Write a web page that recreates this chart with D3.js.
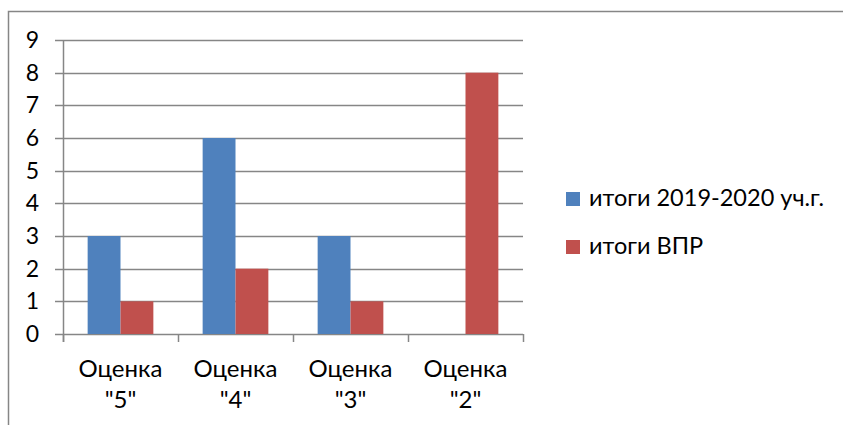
<!DOCTYPE html>
<html><head><meta charset="utf-8">
<script src="https://cdn.jsdelivr.net/npm/d3@7"></script>
<style>html,body{margin:0;background:#fff;overflow:hidden}svg{display:block}text{font-family:Lato,"Open Sans",sans-serif;fill:#000}</style>
</head><body>
<script>
const categories = [['Оценка','"5"'],['Оценка','"4"'],['Оценка','"3"'],['Оценка','"2"']];
const seriesNames = ['итоги 2019-2020 уч.г.','итоги ВПР'];
const series1 = [3, 6, 3, 0];
const series2 = [1, 2, 1, 8];
const yTicks = [0,1,2,3,4,5,6,7,8,9];
const colors = ['#4F81BD','#C0504D'];

(function(){
const W = 843, H = 425;
const svg = d3.select('body').append('svg').attr('width', W).attr('height', H);
svg.append('rect').attr('x',8.5).attr('y',11.5).attr('width',W).attr('height',H)
  .attr('fill','none').attr('stroke','#868686').attr('stroke-width',1.5);

const pl = 63, pr = 523, pt = 40, pb = 334;
const y = d3.scaleLinear().domain([0,9]).range([pb, pt]);
const x = d3.scaleBand().domain(d3.range(categories.length)).range([pl, pr]);
const gap = 1.5;
const bw = x.bandwidth() / (2 + gap);

svg.append('g').selectAll('line').data(yTicks).join('line')
  .attr('x1', pl - 8).attr('x2', pr)
  .attr('y1', d => Math.round(y(d)) + 0.5).attr('y2', d => Math.round(y(d)) + 0.5)
  .attr('stroke', '#868686').attr('stroke-width', 1.5);

svg.append('g').selectAll('text').data(yTicks).join('text')
  .attr('x', 39).attr('y', d => y(d) + 8).attr('text-anchor','end')
  .style('font-size','23px').text(d => d);

const data = [series1, series2];
data.forEach((s, si) => {
  svg.append('g').selectAll('rect').data(s).join('rect')
    .attr('x', (d,i) => x(i) + bw*gap/2 + si*bw)
    .attr('width', bw)
    .attr('y', d => y(d))
    .attr('height', d => y(0) - y(d))
    .attr('fill', colors[si]);
});

svg.append('line').attr('x1', pl+0.5).attr('x2', pl+0.5).attr('y1', pt).attr('y2', pb+8)
  .attr('stroke','#868686').attr('stroke-width',1.5);
svg.append('g').selectAll('line').data(d3.range(categories.length+1)).join('line')
  .attr('x1', i => Math.round(pl + i*x.step()) + 0.5).attr('x2', i => Math.round(pl + i*x.step()) + 0.5)
  .attr('y1', pb).attr('y2', pb + 8)
  .attr('stroke','#868686').attr('stroke-width',1.5);

const cl = svg.append('g').selectAll('text').data(categories).join('text')
  .attr('text-anchor','middle').style('font-size','24px');
cl.each(function(d,i){
  const t = d3.select(this);
  d.forEach((line, li) => {
    t.append('tspan').attr('x', x(i) + x.bandwidth()/2).attr('y', 377 + li*31).text(line);
  });
});

const lg = svg.append('g').selectAll('g').data(seriesNames).join('g')
  .attr('transform', (d,i) => `translate(566, ${192 + i*48})`);
lg.append('rect').attr('width', 14).attr('height', 14).attr('fill', (d,i) => colors[i]);
lg.append('text').attr('x', 23).attr('y', 14).style('font-size','23.5px').text(d => d);
})();
</script>
</body></html>
